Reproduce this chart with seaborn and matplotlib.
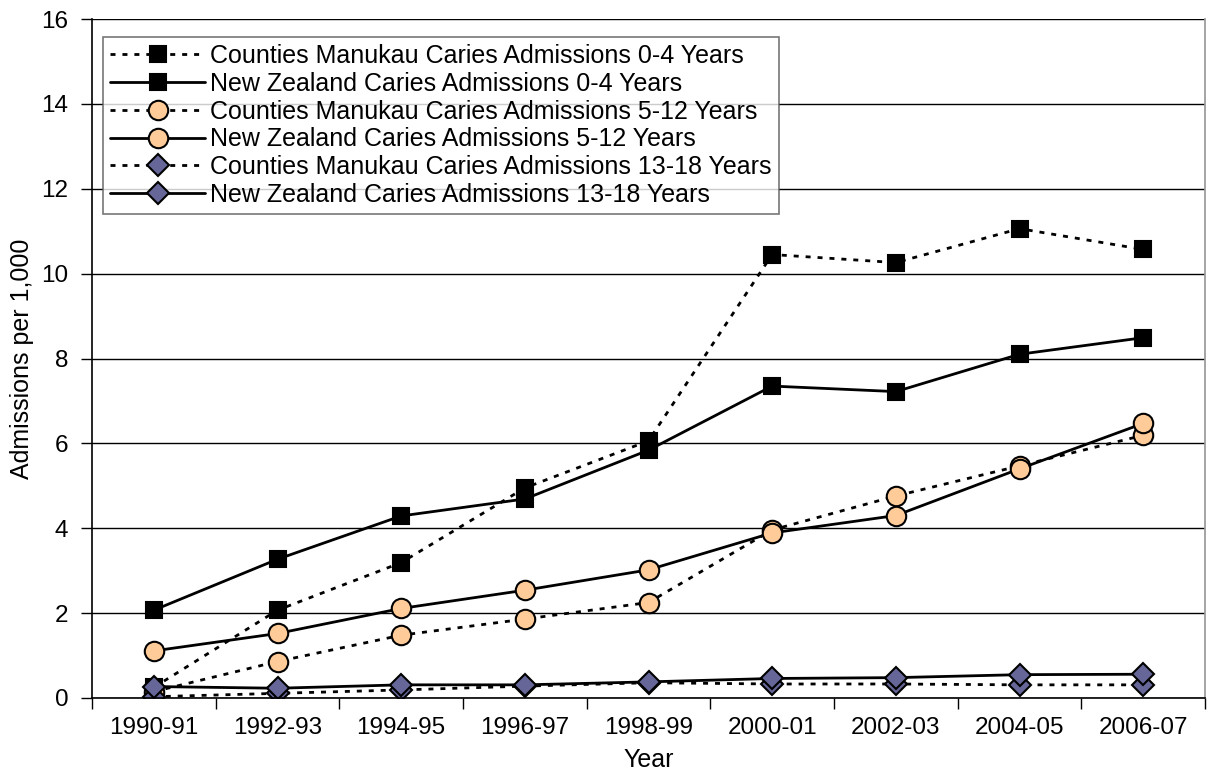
import matplotlib
matplotlib.use("Agg")
import matplotlib.pyplot as plt
import seaborn as sns
import pandas as pd
import numpy as np

years = ["1990-91", "1992-93", "1994-95", "1996-97", "1998-99",
         "2000-01", "2002-03", "2004-05", "2006-07"]

cm_0_4 = [0.25, 2.07, 3.19, 4.95, 6.06, 10.45, 10.26, 11.06, 10.57]
nz_0_4 = [2.07, 3.27, 4.29, 4.69, 5.84, 7.35, 7.22, 8.10, 8.49]
cm_5_12 = [0.15, 0.86, 1.48, 1.86, 2.25, 3.96, 4.76, 5.47, 6.19]
nz_5_12 = [1.11, 1.52, 2.11, 2.54, 3.02, 3.89, 4.30, 5.40, 6.47]
cm_13_18 = [0.03, 0.11, 0.19, 0.28, 0.36, 0.33, 0.33, 0.31, 0.31]
nz_13_18 = [0.27, 0.23, 0.31, 0.31, 0.38, 0.46, 0.48, 0.55, 0.56]

series_names = [
    "Counties Manukau Caries Admissions 0-4 Years",
    "New Zealand Caries Admissions 0-4 Years",
    "Counties Manukau Caries Admissions 5-12 Years",
    "New Zealand Caries Admissions 5-12 Years",
    "Counties Manukau Caries Admissions 13-18 Years",
    "New Zealand Caries Admissions 13-18 Years",
]
series_values = [cm_0_4, nz_0_4, cm_5_12, nz_5_12, cm_13_18, nz_13_18]

sns.set_theme(style="white")
plt.rcParams["font.family"] = ["Liberation Sans", "DejaVu Sans"]
plt.rcParams["text.color"] = "black"
plt.rcParams["axes.labelcolor"] = "black"
plt.rcParams["xtick.color"] = "black"
plt.rcParams["ytick.color"] = "black"

fig = plt.figure(figsize=(12.14, 7.74), dpi=100)
ax = fig.add_axes([92 / 1214, 1 - 698 / 774, (1205 - 92) / 1214, (698 - 19) / 774])

dotted = (0, (1.8, 2.5))
styles = [
    dict(marker="s", mfc="black", ms=12, ls=dotted),
    dict(marker="s", mfc="black", ms=12, ls="-"),
    dict(marker="o", mfc="#FFCC99", ms=14, ls=dotted),
    dict(marker="o", mfc="#FFCC99", ms=14, ls="-"),
    dict(marker="D", mfc="#666699", ms=11, ls=dotted),
    dict(marker="D", mfc="#666699", ms=11, ls="-"),
]

xpos = np.arange(len(years))
for name, vals, st in zip(series_names, series_values, styles):
    df = pd.DataFrame({"x": xpos, "y": vals})
    sns.lineplot(data=df, x="x", y="y", ax=ax, color="black", lw=2,
                 linestyle=st["ls"], marker=st["marker"],
                 markerfacecolor=st["mfc"], markeredgecolor="black",
                 markeredgewidth=1.5, markersize=st["ms"], label=name)

ax.set_xlim(-0.5, len(years) - 0.5)
ax.set_ylim(0, 16)
ax.set_yticks(np.arange(0, 17, 2))
ax.set_xticks(xpos)
ax.set_xticklabels(years)
ax.set_xticks(np.arange(-0.5, len(years), 1), minor=True)
ax.tick_params(axis="x", which="major", length=0, labelsize=17.5, pad=14)
ax.tick_params(axis="x", which="minor", length=8, width=1, color="black", direction="out", bottom=True)
ax.tick_params(axis="y", which="major", length=8, width=1, color="black", direction="out", left=True, labelsize=17.5, pad=9)

ax.yaxis.grid(True, color="black", lw=1)
ax.set_axisbelow(True)
ax.spines["top"].set_visible(False)
ax.spines["right"].set_color("#999999")
ax.spines["left"].set_color("black")
ax.spines["bottom"].set_color("black")
ax.spines["left"].set_linewidth(1.2)
ax.spines["bottom"].set_linewidth(1.2)

ax.set_xlabel("Year", fontsize=18, labelpad=6)
ax.set_ylabel("Admissions per 1,000", fontsize=18, labelpad=5)

leg = ax.legend(loc="upper left", bbox_to_anchor=(0.003, 0.985), fontsize=18,
                frameon=True, fancybox=False, edgecolor="#555555",
                handlelength=3.8, handletextpad=0.2, labelspacing=0.15,
                borderpad=0.3, borderaxespad=0.3)
leg.get_frame().set_linewidth(1.2)

fig.savefig("out.png", dpi=100, facecolor="white")
